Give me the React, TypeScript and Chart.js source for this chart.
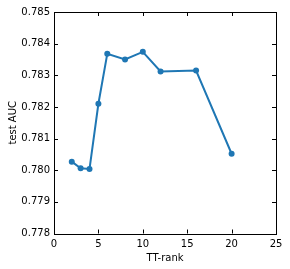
import React, { useEffect, useRef } from "react";
import { Chart, registerables } from "chart.js";

Chart.register(...registerables);

const ranks = [2, 3, 4, 5, 6, 8, 10, 12, 16, 20];
const auc = [0.78027, 0.78006, 0.78004, 0.7821, 0.78368, 0.7835, 0.78374, 0.78312, 0.78315, 0.78052];
const xTicks = [0, 5, 10, 15, 20, 25];
const yTicks = [0.778, 0.779, 0.78, 0.781, 0.782, 0.783, 0.784, 0.785];

const FONT = "'DejaVu Sans', sans-serif";

const frameTicks = {
  id: "frameTicks",
  afterDraw(chart: any) {
    const { ctx, chartArea: a, scales } = chart;
    ctx.save();
    ctx.strokeStyle = "#000";
    ctx.lineWidth = 1;
    ctx.strokeRect(Math.round(a.left) + 0.5, Math.round(a.top) + 0.5, Math.round(a.right - a.left), Math.round(a.bottom - a.top));
    const L = 4;
    ctx.beginPath();
    xTicks.forEach((v) => {
      const x = Math.round(scales.x.getPixelForValue(v)) + 0.5;
      ctx.moveTo(x, a.bottom);
      ctx.lineTo(x, a.bottom - L);
      ctx.moveTo(x, a.top);
      ctx.lineTo(x, a.top + L);
    });
    yTicks.forEach((v) => {
      const y = Math.round(scales.y.getPixelForValue(v)) + 0.5;
      ctx.moveTo(a.left, y);
      ctx.lineTo(a.left + L, y);
      ctx.moveTo(a.right, y);
      ctx.lineTo(a.right - L, y);
    });
    ctx.stroke();
    ctx.restore();
  },
};

export default function App() {
  const ref = useRef<HTMLCanvasElement>(null);
  useEffect(() => {
    document.body.style.margin = "0";
    const chart = new Chart(ref.current!, {
      type: "line",
      data: {
        datasets: [
          {
            data: ranks.map((r, i) => ({ x: r, y: auc[i] })),
            borderColor: "#1f77b4",
            backgroundColor: "#1f77b4",
            borderWidth: 2,
            pointRadius: 3,
            pointBorderWidth: 0,
            tension: 0,
          },
        ],
      },
      options: {
        animation: false,
        responsive: false,
        layout: { padding: { top: 12, right: 14, left: 0, bottom: 0 } },
        plugins: { legend: { display: false }, tooltip: { enabled: false } },
        scales: {
          x: {
            type: "linear",
            min: 0,
            max: 25,
            afterBuildTicks: (s: any) => {
              s.ticks = xTicks.map((v) => ({ value: v }));
            },
            afterFit: (s: any) => {
              s.height = 35.5;
            },
            grid: { display: false, drawTicks: false },
            border: { display: false },
            ticks: { color: "#000", font: { family: FONT, size: 10 }, padding: 5, maxRotation: 0 },
            title: { display: true, text: "TT-rank", color: "#000", font: { family: FONT, size: 10 }, padding: { top: 2, bottom: 5 } },
          },
          y: {
            type: "linear",
            min: 0.778,
            max: 0.785,
            afterBuildTicks: (s: any) => {
              s.ticks = yTicks.map((v) => ({ value: v }));
            },
            afterFit: (s: any) => {
              s.width = 54;
            },
            grid: { display: false, drawTicks: false },
            border: { display: false },
            ticks: {
              color: "#000",
              font: { family: FONT, size: 10 },
              padding: 4,
              callback: (v: any) => Number(v).toFixed(3),
            },
            title: { display: true, text: "test AUC", color: "#000", font: { family: FONT, size: 10 }, padding: { top: 7, bottom: 0 } },
          },
        },
      },
      plugins: [frameTicks],
    });
    return () => chart.destroy();
  }, []);
  return (
    <div style={{ width: 290, height: 269 }}>
      <canvas ref={ref} width={290} height={269} style={{ display: "block" }} />
    </div>
  );
}
